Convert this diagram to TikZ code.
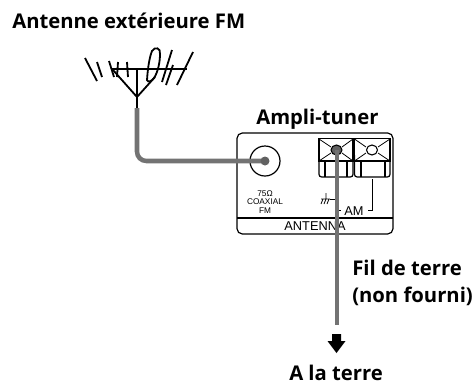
\documentclass[tikz,border=0pt]{standalone}
\usepackage{fontspec}
\setmainfont{Open Sans}
\newfontfamily\smallf{Liberation Sans}
\tikzset{
 lab/.style={font=\bfseries\fontsize{15.2}{18}\selectfont,inner sep=0pt,anchor=base west},
 sm/.style={font=\smallf\fontsize{6.2}{6.3}\selectfont,inner sep=0pt,align=center,text=black},
 md/.style={font=\smallf\fontsize{9.6}{10}\selectfont,inner sep=0pt,text=black},
 ant/.style={line width=1.35pt,black},
 thin box/.style={line width=0.9pt,black},
 thick box/.style={line width=1.3pt,black},
 wire/.style={line width=3.4pt,color=black!55},
}
\begin{document}
\begin{tikzpicture}[x=0.75pt,y=-0.75pt]
\useasboundingbox (0,0) rectangle (476,383);
% labels
\node[lab] (l1) at (12,28) {Antenne extérieure FM};
\node[lab] (l2) at (256,124) {Ampli-tuner};
\node[lab] (l3) at (352,275) {Fil de terre};
\node[lab] (l4) at (352,302) {(non fourni)};
\node[lab] (l5) at (289,380) {A la terre};
% antenna
\draw[ant] (112,69) -- (187,69);
\draw[ant] (85,58) -- (97,81);
\draw[ant] (97,62) -- (102,77);
\draw[ant] (109,61) -- (114,77);
\draw[ant] (118,62) -- (117,77);
\draw[ant] (127,62) -- (128,77);
\draw[ant] (113,70) -- (137,97) -- (155,77);
\draw[ant] (137,69) -- (137,108);
\draw[ant] (147,80) .. controls (148,65) and (150,56) .. (152,51) .. controls (155,46) and (161,48) .. (160,54) .. controls (160,62) and (158,72) .. (154,78) .. controls (152,81) and (148,83) .. (147,80) -- cycle;
\draw[ant] (172,50) -- (162,82);
\draw[ant] (173,65) -- (166,85);
\draw[ant] (193,52) -- (177,85);
% receiver
\draw[thin box,rounded corners=4pt] (237,133) rectangle (393,234);
\draw[thin box] (237,218) -- (393,218);
\node[md] (ant) at (315,226.5) {ANTENNA};
\node[md] (am) at (354,211) {AM};
\node[sm] (coax) at (265,202) {75Ω\\COAXIAL\\FM};
\draw[thin box] (265,161) circle (15);
% terminals
\draw[thin box,rounded corners=2pt] (319,155) -- (319,177) -- (353,177) -- (353,155);
\draw[thin box,rounded corners=2pt] (354.5,155) -- (354.5,177) -- (390,177) -- (390,155);
\draw[thick box] (319,138.5) rectangle (353,161);
\draw[thick box] (354.5,138.5) rectangle (390,161);
\draw[thin box] (325,161) -- (325,177) (347,161) -- (347,177);
\draw[thin box] (361,161) -- (361,177) (385,161) -- (385,177);
\draw[line width=.6pt] (319,139) -- (331,147) (353,139) -- (342,147) (319,161) -- (331,153) (353,161) -- (342,153);
\draw[line width=.6pt] (354.5,139) -- (366,147) (390,139) -- (378,147) (354.5,161) -- (366,153) (390,161) -- (378,153);
\draw[line width=.8pt,fill=white] (372,150) ellipse (5.5 and 5);
\draw[line width=.8pt,fill=black!62] (336.5,150) ellipse (5.5 and 5);
% brackets
\draw[line width=.6pt] (372,179) -- (372,210) -- (368,210);
\draw[line width=.6pt] (337,179) -- (337,210) -- (341,210);
\draw[line width=.6pt] (330,199) -- (337,199);
\draw[line width=.6pt] (321,199) -- (330,199) (323,199) -- (321,204) (326,199) -- (324,204) (329,199) -- (327,204) (326,193) -- (326,199);
% wires
\coordinate (a1) at (137,108);
\coordinate (a2) at (265,161);
\coordinate (g1) at (337,150);
\coordinate (g2) at (337,325);
\draw[wire,rounded corners=7pt] (a1) -- (137,161) -- (a2);
\fill[black!62] (a2) circle (4.5);
\draw[wire] (g1) -- (g2);
% arrow
\fill (332,334) -- (341,334) -- (341,341) -- (345.5,341) -- (336.5,353) -- (327.5,341) -- (332,341) -- cycle;
\end{tikzpicture}
\end{document}
